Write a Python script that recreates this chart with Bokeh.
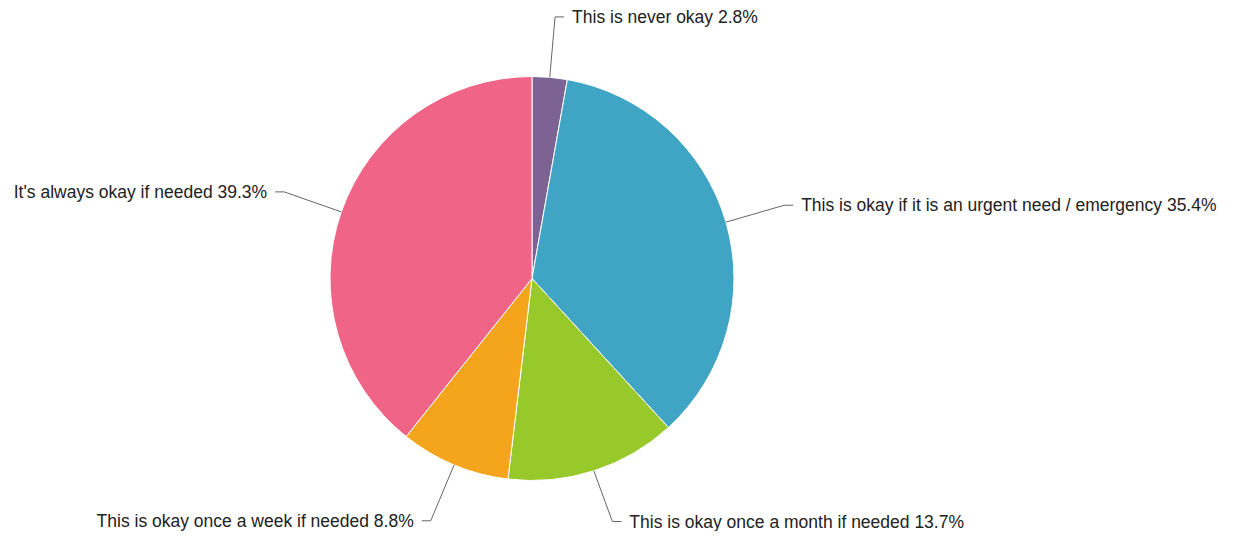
import numpy as np
from bokeh.plotting import figure
from bokeh.models import Range1d
from bokeh.core.properties import value
from bokeh.embed import file_html
from bokeh.resources import INLINE

categories = [
    "This is never okay",
    "This is okay if it is an urgent need / emergency",
    "This is okay once a month if needed",
    "This is okay once a week if needed",
    "It's always okay if needed",
]
percents = [2.8, 35.4, 13.7, 8.8, 39.3]
colors = ["#7d6394", "#40a4c4", "#97c92a", "#f5a51b", "#f06587"]

W, H = 1224, 531
p = figure(width=W, height=H, output_backend="svg", toolbar_location=None,
           x_range=Range1d(0, W), y_range=Range1d(0, H), min_border=0)
p.axis.visible = False
p.grid.visible = False
p.outline_line_color = None

cx, cy, R = 531.5, H - 278, 202
vals = np.array(percents)
frac = vals / vals.sum()
cum_end = np.cumsum(frac)
cum_start = cum_end - frac
start = np.pi / 2 - cum_start * 2 * np.pi
end = np.pi / 2 - cum_end * 2 * np.pi

p.wedge(x=cx, y=cy, radius=R, radius_units="screen", start_angle=start, end_angle=end,
        direction="clock", fill_color=colors, line_color="white", line_width=1)

mid = np.pi / 2 - (cum_start + frac / 2) * 2 * np.pi
xs, ys, tx, ty, aligns = [], [], [], [], []
for i, a in enumerate(mid):
    x0, y0 = cx + R * np.cos(a), cy + R * np.sin(a)
    x1, y1 = cx + R * 1.3 * np.cos(a), cy + R * 1.3 * np.sin(a)
    y1 = min(max(y1, 10), H - 10)
    side = 1 if np.cos(a) >= 0 else -1
    x2 = x1 + side * 9
    xs.append([x0, x1, x2])
    ys.append([y0, y1, y1])
    tx.append(x2 + side * 8)
    ty.append(y1)
    aligns.append("left" if side > 0 else "right")

p.multi_line(xs=xs, ys=ys, line_color="#666666", line_width=1)
labels = [f"{c} {v}%" for c, v in zip(categories, percents)]
p.text(x=tx, y=ty, text=labels, text_align=aligns, text_baseline="middle",
       text_font=value("Liberation Sans"), text_font_size="17.5px", text_color="#222222")

open("out.html", "w").write(file_html(p, INLINE))
